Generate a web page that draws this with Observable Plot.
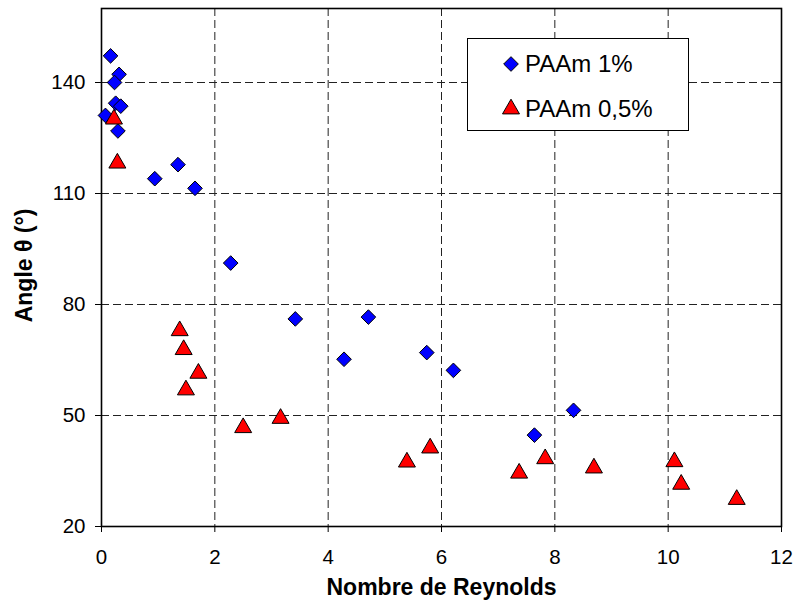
<!DOCTYPE html>
<html>
<head>
<meta charset="utf-8">
<script src="https://cdn.jsdelivr.net/npm/d3@7"></script>
<script src="https://cdn.jsdelivr.net/npm/@observablehq/plot@0.6"></script>
<style>
  html, body { margin: 0; padding: 0; background: #fff; }
  #wrap { position: relative; width: 795px; height: 610px; font-family: "Liberation Sans", Arial, sans-serif; }
  #legend { position: absolute; left: 467px; top: 38px; width: 220px; height: 91px; border: 1.5px solid #000; background: #fff; }
  #legend svg { position: absolute; left: 0; top: 0; }
</style>
</head>
<body>
<div id="wrap"></div>
<script>
// Data
const seriesNames = ["PAAm 1%", "PAAm 0,5%"];
const re1 = [0.16, 0.31, 0.23, 0.25, 0.34, 0.07, 0.29, 0.94, 1.35, 1.65, 2.28, 3.42, 4.28, 4.71, 5.74, 6.21, 8.33, 7.64];
const angle1 = [147.2, 142.2, 140.0, 134.4, 133.6, 131.1, 126.9, 114.0, 117.8, 111.4, 91.2, 76.1, 65.2, 76.6, 67.0, 62.2, 51.4, 44.7];
const re05 = [0.22, 0.28, 1.38, 1.45, 1.71, 1.49, 2.50, 3.16, 5.39, 5.80, 7.37, 7.83, 8.69, 10.11, 10.23, 11.21];
const angle05 = [130.1, 118.2, 72.9, 67.8, 61.4, 56.9, 46.7, 49.2, 37.4, 41.2, 34.4, 38.3, 35.8, 37.5, 31.4, 27.3];
const xTicks = [0, 2, 4, 6, 8, 10, 12];
const yTicks = [20, 50, 80, 110, 140];
const xLabel = "Nombre de Reynolds";
const yLabel = "Angle θ (°)";

const d1 = re1.map((x, i) => ({x, y: angle1[i]}));
const d05 = re05.map((x, i) => ({x, y: angle05[i]}));

const font = "Liberation Sans, Arial, sans-serif";

const chart = Plot.plot({
  width: 795,
  height: 610,
  marginLeft: 101,
  marginRight: 14,
  marginTop: 8,
  marginBottom: 84,
  style: {fontFamily: font, fontSize: "20px", background: "#fff", color: "#000"},
  x: {domain: [0, 12], ticks: xTicks},
  y: {domain: [20, 160], ticks: yTicks},
  marks: [
    Plot.ruleX(xTicks.slice(1, -1), {stroke: "#222", strokeWidth: 1, strokeDasharray: "8,4"}),
    Plot.ruleY(yTicks.slice(1), {stroke: "#222", strokeWidth: 1, strokeDasharray: "8,4"}),
    Plot.axisX({ticks: xTicks, tickSize: 6, tickFormat: () => "", label: null, stroke: "#000"}),
    Plot.axisY({ticks: yTicks, tickSize: 6, tickFormat: () => "", label: null, stroke: "#000"}),
    Plot.text(xTicks, {x: d => d, text: d => String(d), frameAnchor: "bottom", lineAnchor: "top", dy: 23, fontSize: 20.5, fill: "#000"}),
    Plot.text(yTicks, {y: d => d, text: d => String(d), frameAnchor: "left", textAnchor: "end", dx: -16, fontSize: 20.5, fill: "#000"}),
    Plot.frame({stroke: "#000", strokeWidth: 1.6}),
    Plot.dot(d1, {x: "x", y: "y", symbol: "diamond2", r: 6.6, fill: "#0000FF", stroke: "#000", strokeWidth: 1}),
    Plot.dot(d05, {x: "x", y: "y", symbol: "triangle", r: 6.3, fill: "#FF0000", stroke: "#000", strokeWidth: 1}),
    Plot.text([xLabel], {frameAnchor: "bottom", dy: 68, text: d => d, fontSize: 23, fontWeight: "bold", fill: "#000"}),
    Plot.text([yLabel], {frameAnchor: "left", textAnchor: "middle", dx: -77, dy: -2, rotate: -90, text: d => d, fontSize: 23, fontWeight: "bold", fill: "#000"})
  ]
});

const wrap = document.getElementById("wrap");
wrap.appendChild(chart);

// Legend (inside the plot area, as in the reference)
const legend = document.createElement("div");
legend.id = "legend";
wrap.appendChild(legend);
const ls = d3.select(legend).append("svg").attr("width", 220).attr("height", 91);
const items = [
  {name: seriesNames[0], sym: d3.symbolDiamond2, size: 137, fill: "#0000FF", cy: 25},
  {name: seriesNames[1], sym: d3.symbolTriangle, size: 125, fill: "#FF0000", cy: 70}
];
items.forEach(it => {
  ls.append("path")
    .attr("d", d3.symbol(it.sym, it.size)())
    .attr("transform", `translate(43,${it.cy})`)
    .attr("fill", it.fill).attr("stroke", "#000").attr("stroke-width", 1);
  ls.append("text")
    .attr("x", 57).attr("y", it.cy + 8)
    .attr("font-family", font).attr("font-size", 24)
    .attr("fill", "#000")
    .text(it.name);
});
</script>
</body>
</html>
